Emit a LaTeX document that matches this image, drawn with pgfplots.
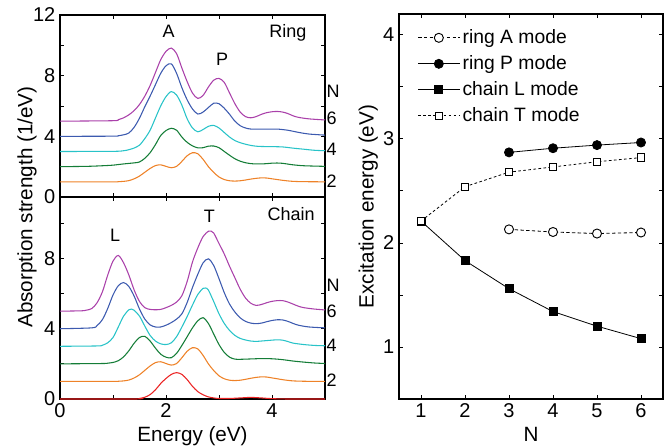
\documentclass[border=0pt]{standalone}
\usepackage{fontspec}
\setmainfont{Liberation Sans}
\usepackage{pgfplots}
\usepackage{pgfplotstable}
\pgfplotsset{compat=1.18}
\newlength\px \setlength\px{0.75pt}

\definecolor{cN1}{RGB}{235,35,35}
\definecolor{cN2}{RGB}{238,130,40}
\definecolor{cN3}{RGB}{20,125,55}
\definecolor{cN4}{RGB}{40,195,200}
\definecolor{cN5}{RGB}{60,90,175}
\definecolor{cN6}{RGB}{170,65,170}

% N=2 spectrum, same in both panels
\pgfplotstableread{
x y
0 1.0
1.0 1.0
1.1 1.01
1.2 1.03
1.3 1.08
1.4 1.2
1.5 1.38
1.6 1.63
1.7 1.88
1.8 2.07
1.9 2.12
2.0 2.02
2.1 1.93
2.2 2.02
2.3 2.35
2.4 2.72
2.5 2.92
2.6 2.85
2.7 2.48
2.8 2.0
2.9 1.62
3.0 1.32
3.1 1.15
3.2 1.07
3.3 1.05
3.4 1.07
3.5 1.12
3.6 1.18
3.7 1.23
3.8 1.26
3.9 1.25
4.0 1.2
4.1 1.15
4.2 1.1
4.3 1.06
4.4 1.03
4.6 1.01
5.0 1.0
}\specTwo

\tikzset{spec/.style={smooth, line width=0.8pt}}
\pgfplotsset{
  panel/.style={
    scale only axis, width=265\px, xmin=0, xmax=5,
    xtick={0,1,...,5}, xticklabels={0,,2,,4,},
    tick align=inside, major tick length=4\px,
    axis line style={line width=0.9pt},
    tick style={line width=0.6pt, black},
    tick label style={font=\fontsize{15}{15}\selectfont},
    label style={font=\fontsize{15.5}{16}\selectfont},
    /pgf/number format/assume math mode=true,
    clip=false,
  },
}

\begin{document}
\begin{tikzpicture}
\useasboundingbox (0,0) rectangle (670\px,448\px);

% ---- ring spectra
\begin{axis}[panel, at={(60\px,251\px)}, anchor=south west, height=182\px,
  ymin=0, ymax=12, ytick={0,2,...,12}, yticklabels={0,,4,,8,,12},
  xticklabels={}]
\addplot[spec, cN2] table {\specTwo};
\addplot[spec, cN3] coordinates {(0,2.0) (0.5,2.02) (0.8,2.06) (1.0,2.1) (1.2,2.18) (1.4,2.25) (1.5,2.31) (1.6,2.55) (1.7,2.92) (1.8,3.45) (1.9,4.05) (2.0,4.38) (2.1,4.53) (2.2,4.4) (2.3,3.95) (2.4,3.6) (2.5,3.37) (2.6,3.24) (2.7,3.25) (2.8,3.35) (2.9,3.36) (3.0,3.25) (3.1,3.0) (3.2,2.75) (3.3,2.52) (3.4,2.36) (3.5,2.26) (3.6,2.2) (3.7,2.18) (3.8,2.18) (3.9,2.2) (4.0,2.23) (4.1,2.24) (4.2,2.22) (4.3,2.17) (4.4,2.12) (4.6,2.06) (5.0,2.02)};
\addplot[spec, cN4] coordinates {(0,3.0) (1.0,3.01) (1.2,3.05) (1.3,3.12) (1.4,3.23) (1.5,3.42) (1.6,3.85) (1.7,4.4) (1.8,5.2) (1.9,6.0) (2.0,6.62) (2.1,6.95) (2.2,6.72) (2.3,6.05) (2.4,5.15) (2.5,4.55) (2.6,4.3) (2.7,4.45) (2.8,4.66) (2.9,4.72) (3.0,4.55) (3.1,4.25) (3.2,3.95) (3.3,3.72) (3.4,3.58) (3.5,3.48) (3.6,3.4) (3.7,3.35) (3.8,3.33) (4.0,3.32) (4.2,3.3) (4.4,3.22) (4.6,3.15) (4.8,3.08) (5.0,3.05)};
\addplot[spec, cN5] coordinates {(0,4.0) (1.0,4.01) (1.1,4.04) (1.2,4.1) (1.3,4.22) (1.4,4.6) (1.5,5.2) (1.6,5.95) (1.7,6.65) (1.8,7.4) (1.9,8.15) (2.0,8.65) (2.1,8.78) (2.2,8.15) (2.3,7.2) (2.4,6.4) (2.5,5.8) (2.6,5.47) (2.7,5.6) (2.8,5.9) (2.9,6.18) (3.0,6.15) (3.1,5.85) (3.2,5.45) (3.3,5.0) (3.4,4.7) (3.5,4.55) (3.6,4.48) (3.8,4.47) (4.0,4.48) (4.1,4.48) (4.3,4.4) (4.5,4.26) (4.7,4.15) (5.0,4.08)};
\addplot[spec, cN6] coordinates {(0,5.0) (1.0,5.03) (1.1,5.1) (1.2,5.22) (1.3,5.42) (1.4,5.7) (1.5,6.1) (1.6,6.65) (1.7,7.35) (1.8,8.2) (1.9,9.05) (2.0,9.6) (2.1,9.82) (2.2,9.45) (2.3,8.5) (2.4,7.6) (2.5,6.85) (2.6,6.5) (2.7,6.7) (2.8,7.25) (2.9,7.7) (3.0,7.82) (3.1,7.55) (3.2,6.85) (3.3,6.15) (3.4,5.6) (3.5,5.3) (3.6,5.22) (3.7,5.3) (3.8,5.45) (3.9,5.56) (4.0,5.62) (4.1,5.64) (4.2,5.6) (4.3,5.5) (4.4,5.35) (4.5,5.25) (4.7,5.15) (5.0,5.08)};
\begin{scope}[font=\fontsize{13.5}{14}\selectfont]
\node[anchor=base] at (axis cs:2.05,10.5) {A};
\node[anchor=base] at (axis cs:3.06,8.64) {P};
\node[anchor=base] at (axis cs:4.30,10.5) {Ring};
\node[anchor=west, inner sep=1pt] at (axis cs:5.0,7.0) {N};
\node[anchor=west, inner sep=1pt] at (axis cs:5.0,5.2) {6};
\node[anchor=west, inner sep=1pt] at (axis cs:5.0,3.15) {4};
\node[anchor=west, inner sep=1pt] at (axis cs:5.0,1.05) {2};
\end{scope}
\end{axis}

% ---- chain spectra
\begin{axis}[panel, at={(60\px,49\px)}, anchor=south west, height=202\px,
  ymin=0, ymax=11.5, ytick={0,2,...,10}, yticklabels={0,,4,,8,},
  xlabel={Energy (eV)}]
\addplot[spec, cN1] coordinates {(0,0) (1.4,0) (1.5,0.03) (1.6,0.1) (1.7,0.25) (1.8,0.52) (1.9,0.88) (2.0,1.17) (2.1,1.4) (2.2,1.5) (2.3,1.4) (2.4,1.1) (2.5,0.72) (2.6,0.42) (2.7,0.24) (2.8,0.12) (2.9,0.06) (3.0,0.03) (3.2,0.03) (3.4,0.06) (3.6,0.09) (3.8,0.06) (4.0,0.02) (4.3,0) (5.0,0)};
\addplot[spec, cN2] table {\specTwo};
\addplot[spec, cN3] coordinates {(0,2.0) (0.8,2.02) (0.9,2.04) (1.0,2.08) (1.1,2.18) (1.2,2.4) (1.3,2.75) (1.4,3.18) (1.5,3.5) (1.6,3.57) (1.7,3.3) (1.8,2.9) (1.9,2.55) (2.0,2.38) (2.1,2.35) (2.2,2.6) (2.3,3.05) (2.4,3.55) (2.5,4.05) (2.6,4.45) (2.7,4.63) (2.8,4.3) (2.9,3.7) (3.0,3.1) (3.1,2.65) (3.2,2.38) (3.3,2.27) (3.4,2.26) (3.6,2.28) (3.8,2.3) (4.0,2.29) (4.2,2.24) (4.4,2.16) (4.6,2.1) (4.8,2.05) (5.0,2.02)};
\addplot[spec, cN4] coordinates {(0,3.0) (0.7,3.02) (0.8,3.06) (0.9,3.2) (1.0,3.5) (1.1,4.1) (1.2,4.72) (1.3,5.08) (1.35,5.12) (1.4,5.05) (1.5,4.72) (1.6,4.15) (1.7,3.62) (1.8,3.3) (1.9,3.14) (2.0,3.1) (2.1,3.2) (2.2,3.55) (2.3,4.1) (2.4,4.7) (2.5,5.35) (2.6,5.95) (2.7,6.3) (2.75,6.32) (2.8,6.2) (2.9,5.55) (3.0,4.85) (3.1,4.3) (3.2,3.9) (3.3,3.62) (3.4,3.45) (3.5,3.36) (3.6,3.3) (3.7,3.28) (3.8,3.3) (4.0,3.35) (4.1,3.37) (4.2,3.35) (4.3,3.27) (4.4,3.18) (4.6,3.1) (4.8,3.05) (5.0,3.03)};
\addplot[spec, cN5] coordinates {(0,4.0) (0.6,4.05) (0.7,4.18) (0.8,4.52) (0.9,5.15) (1.0,5.92) (1.1,6.45) (1.2,6.63) (1.3,6.4) (1.4,5.85) (1.5,5.12) (1.6,4.55) (1.7,4.22) (1.8,4.1) (1.9,4.1) (2.0,4.2) (2.1,4.35) (2.2,4.55) (2.3,4.85) (2.4,5.5) (2.5,6.35) (2.6,7.1) (2.7,7.75) (2.8,7.98) (2.9,7.6) (3.0,6.85) (3.1,6.05) (3.2,5.4) (3.3,4.95) (3.4,4.62) (3.5,4.42) (3.6,4.32) (3.7,4.29) (3.8,4.32) (3.9,4.4) (4.0,4.47) (4.1,4.51) (4.2,4.5) (4.3,4.42) (4.4,4.3) (4.5,4.2) (4.7,4.1) (5.0,4.05)};
\addplot[spec, cN6] coordinates {(0,5.0) (0.4,5.02) (0.5,5.06) (0.6,5.15) (0.7,5.48) (0.8,6.1) (0.9,7.05) (1.0,7.85) (1.1,8.17) (1.2,7.75) (1.3,7.05) (1.4,6.2) (1.5,5.55) (1.6,5.2) (1.7,5.1) (1.8,5.08) (1.9,5.1) (2.0,5.2) (2.1,5.33) (2.2,5.52) (2.3,5.88) (2.4,6.7) (2.5,7.8) (2.6,8.6) (2.7,9.25) (2.8,9.55) (2.85,9.56) (2.9,9.45) (3.0,8.85) (3.1,8.25) (3.2,7.55) (3.3,6.9) (3.4,6.25) (3.5,5.75) (3.6,5.45) (3.7,5.33) (3.8,5.38) (3.9,5.48) (4.0,5.56) (4.1,5.6) (4.2,5.6) (4.3,5.52) (4.4,5.4) (4.5,5.28) (4.6,5.2) (4.8,5.12) (5.0,5.07)};
\begin{scope}[font=\fontsize{13.5}{14}\selectfont]
\node[anchor=base] at (axis cs:1.04,8.99) {L};
\node[anchor=base] at (axis cs:2.82,10.07) {T};
\node[anchor=base] at (axis cs:4.36,10.17) {Chain};
\node[anchor=west, inner sep=1pt] at (axis cs:5.0,6.47) {N};
\node[anchor=west, inner sep=1pt] at (axis cs:5.0,4.99) {6};
\node[anchor=west, inner sep=1pt] at (axis cs:5.0,3.05) {4};
\node[anchor=west, inner sep=1pt] at (axis cs:5.0,1.09) {2};
\end{scope}
\end{axis}

\node[rotate=90, font=\fontsize{15.5}{16}\selectfont] at (27\px,241\px) {Absorption strength (1/eV)};

% ---- excitation energies
\begin{axis}[scale only axis, at={(399\px,49\px)}, anchor=south west,
  width=264\px, height=385\px,
  xmin=0.5, xmax=6.5, ymin=0.5, ymax=4.2,
  xtick={1,...,6}, ytick={1,1.5,...,4}, yticklabels={1,,2,,3,,4},
  tick align=inside, major tick length=4\px,
  axis line style={line width=0.9pt},
  tick style={line width=0.6pt, black},
  tick label style={font=\fontsize{15}{15}\selectfont},
  label style={font=\fontsize{15.5}{16}\selectfont},
  ylabel style={yshift=-4\px},
  /pgf/number format/assume math mode=true,
  xlabel={N}, ylabel={Excitation energy (eV)},
  legend style={draw=none, fill=none, at={(0.065,0.97)}, anchor=north west,
    font=\fontsize{14.5}{15}\selectfont, row sep=3.5pt,
    inner sep=1pt},
  legend cell align=left,
  legend image code/.code={\draw[mark repeat=2,mark phase=2,#1] plot coordinates {(0pt,0pt) (15.5pt,0pt) (31pt,0pt)};},
]
\addplot[black, line width=0.6pt, dash pattern=on 2.5pt off 1.8pt,
  mark=*, mark size=3.4pt, mark options={solid, fill=white, line width=0.7pt}]
  coordinates {(3,2.13) (4,2.105) (5,2.09) (6,2.10)};
\addlegendentry{ring A mode}
\addplot[black, line width=0.6pt,
  mark=*, mark size=3.4pt, mark options={solid, fill=black}]
  coordinates {(3,2.87) (4,2.91) (5,2.94) (6,2.965)};
\addlegendentry{ring P mode}
\addplot[black, line width=0.6pt,
  mark=square*, mark size=3pt, mark options={solid, fill=black}]
  coordinates {(1,2.21) (2,1.83) (3,1.56) (4,1.34) (5,1.20) (6,1.08)};
\addlegendentry{chain L mode}
\addplot[black, line width=0.6pt, dash pattern=on 2pt off 1.8pt,
  mark=square*, mark size=2.8pt, mark options={solid, fill=white, line width=0.7pt}]
  coordinates {(1,2.21) (2,2.54) (3,2.68) (4,2.73) (5,2.78) (6,2.82)};
\addlegendentry{chain T mode}
\end{axis}
\end{tikzpicture}
\end{document}
